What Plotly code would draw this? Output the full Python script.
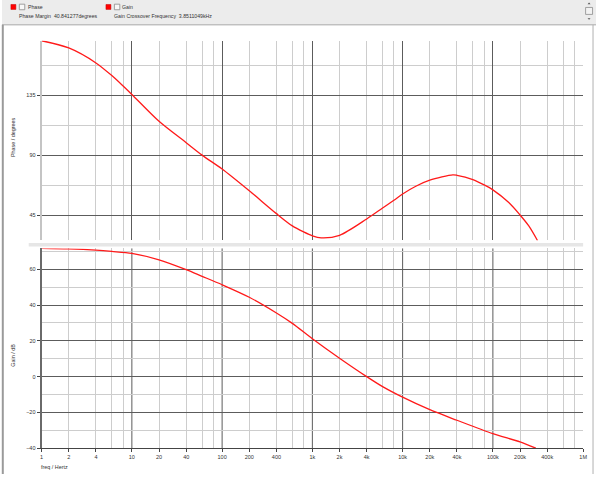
import plotly.graph_objects as go

# ---------------- data ----------------
phase_freq = [1, 2, 4, 6, 8, 10, 20, 40, 60, 100, 200, 400, 600, 800, 1000, 1250,
              2000, 4000, 6000, 8000, 10000, 14000, 20000, 36000, 40000, 60000, 80000, 100000,
              150000, 200000, 250000, 312000]
phase_deg = [175.7, 170.3, 159.1, 149.6, 141.8, 135.5, 115.4, 99.4, 90.1, 79.7, 63.4,
             46.3, 37.1, 32.6, 29.7, 28.2, 30.1, 42.3, 50.5, 56.3, 61.0, 66.8, 71.3, 75.3, 75.0,
             71.8, 67.8, 64.1, 54.6, 45.3, 37.1, 26.2]

gain_freq = [1, 2, 4, 6, 10, 20, 40, 60, 100, 200, 400, 600, 1000, 2000, 4000, 6000, 10000,
             20000, 40000, 100000, 200000, 299000]
gain_db = [71.7, 71.4, 70.7, 70.0, 68.9, 65.3, 59.8, 56.1, 51.4, 44.4, 35.6, 29.8, 21.2,
           10.3, 0.0, -5.6, -11.5, -18.5, -24.4, -31.9, -36.5, -40.0]

x_tick_vals = [1, 2, 4, 10, 20, 40, 100, 200, 400, 1e3, 2e3, 4e3, 1e4, 2e4, 4e4, 1e5, 2e5, 4e5, 1e6]
x_tick_text = ["1", "2", "4", "10", "20", "40", "100", "200", "400", "1k", "2k", "4k",
               "10k", "20k", "40k", "100k", "200k", "400k", "1M"]
decades = [1, 10, 100, 1e3, 1e4, 1e5, 1e6]
minor_x = [m * d for d in decades[:-1] for m in (2, 4, 6, 8)]

phase_ticks = [45, 90, 135]
phase_minor = [67.5, 112.5, 157.5]
gain_ticks = [-40, -20, 0, 20, 40, 60]
gain_minor = [-30, -10, 10, 30, 50, 70]

phase_range = [26.2, 175.7]
gain_range = [-40.0, 71.7]

phase_margin_text = "Phase Margin  40.841277degrees"
gain_cross_text = "Gain Crossover Frequency  3.8511049kHz"

# ---------------- layout helpers ----------------
W, H = 600, 477
def px(x):
    return x / W
def py(y):
    return 1 - y / H

FONT = "Liberation Sans"
TXT = "#333333"
MAJ = "#5c5c5c"
MIN = "#cdcdcd"
TICK_SIZE = 5.5

fig = go.Figure()
fig.add_trace(go.Scatter(x=phase_freq, y=phase_deg, mode="lines", xaxis="x", yaxis="y",
                         line=dict(color="#ff1a1a", width=1.3, shape="spline", smoothing=0.8),
                         hoverinfo="skip", showlegend=False))
fig.add_trace(go.Scatter(x=gain_freq, y=gain_db, mode="lines", xaxis="x2", yaxis="y2",
                         line=dict(color="#ff1a1a", width=1.3, shape="spline", smoothing=0.8),
                         hoverinfo="skip", showlegend=False))

xdom = [px(40), px(587)]
common_x = dict(type="log", range=[0, 6], domain=xdom, zeroline=False, fixedrange=True)

fig.update_layout(
    width=W, height=H, autosize=False,
    margin=dict(l=0, r=0, t=0, b=0),
    paper_bgcolor="white", plot_bgcolor="white",
    showlegend=False,
    font=dict(family=FONT, size=TICK_SIZE, color=TXT),
    xaxis=dict(**common_x, anchor="y", tickvals=decades, showticklabels=False, ticks="",
               showgrid=True, gridcolor=MAJ, gridwidth=1, showline=False,
               minor=dict(tickvals=minor_x, showgrid=True, gridcolor=MIN, gridwidth=1, ticks="")),
    yaxis=dict(domain=[py(242), py(41)], range=phase_range, anchor="x", tickvals=phase_ticks,
               ticks="outside", ticklen=3, tickcolor="#444", showgrid=True, gridcolor=MAJ,
               gridwidth=1, showline=True, linecolor="#c4c4c4", linewidth=2, zeroline=False,
               tickfont=dict(size=TICK_SIZE, color=TXT), fixedrange=True,
               minor=dict(tickvals=phase_minor, showgrid=True, gridcolor=MIN, gridwidth=1, ticks="")),
    xaxis2=dict(**common_x, anchor="y2", tickvals=x_tick_vals, ticktext=x_tick_text,
                ticks="outside", ticklen=3, tickcolor="#444", showgrid=False,
                showline=True, linecolor="#444", linewidth=1,
                tickfont=dict(size=TICK_SIZE, color=TXT),
                minor=dict(tickvals=minor_x, showgrid=True, gridcolor=MIN, gridwidth=1, ticks="")),
    yaxis2=dict(domain=[py(451), py(250)], range=gain_range, anchor="x2", tickvals=gain_ticks,
                ticks="outside", ticklen=3, tickcolor="#444", showgrid=True, gridcolor=MAJ,
                gridwidth=1, showline=True, linecolor="#6a6a6a", linewidth=2, zeroline=False,
                tickfont=dict(size=TICK_SIZE, color=TXT), fixedrange=True,
                minor=dict(tickvals=gain_minor, showgrid=True, gridcolor=MIN, gridwidth=1, ticks="")),
)

shapes = []
# decade lines in the gain panel
for d in decades[1:-1]:
    shapes.append(dict(type="line", xref="x2", yref="y2 domain", x0=d, x1=d, y0=0, y1=1,
                       line=dict(color=MAJ, width=1), layer="below"))
# header
shapes.append(dict(type="rect", xref="paper", yref="paper", x0=0, x1=1, y0=py(25), y1=1,
                   fillcolor="#ececec", line=dict(width=0), layer="below"))
shapes.append(dict(type="line", xref="paper", yref="paper", x0=0, x1=1, y0=py(25), y1=py(25),
                   line=dict(color="#a8a8a8", width=1)))
# window borders
shapes.append(dict(type="line", xref="paper", yref="paper", x0=px(0.8), x1=px(0.8), y0=0, y1=py(25),
                   line=dict(color="#9a9a9a", width=2)))
shapes.append(dict(type="line", xref="paper", yref="paper", x0=px(597), x1=px(597), y0=0, y1=py(25),
                   line=dict(color="#b0b0b0", width=1)))
# splitter between panels
shapes.append(dict(type="rect", xref="paper", yref="paper", x0=px(27), x1=px(587),
                   y0=py(248), y1=py(244.5), fillcolor="#e6e6e6", line=dict(width=0)))
# legend markers and checkboxes
for sx in (9, 105):
    shapes.append(dict(type="rect", xref="paper", yref="paper", x0=px(sx), x1=px(sx + 5),
                       y0=py(9.5), y1=py(4.5), fillcolor="#ff0000", line=dict(color="#c00000", width=0.5)))
    shapes.append(dict(type="rect", xref="paper", yref="paper", x0=px(sx + 8.5), x1=px(sx + 14),
                       y0=py(9.8), y1=py(4.2), fillcolor="#f8f8f8", line=dict(color="#8a8a8a", width=0.8)))
# scrollbar
shapes.append(dict(type="rect", xref="paper", yref="paper", x0=px(589.5), x1=px(596.5),
                   y0=py(14.5), y1=py(7.5), fillcolor="#f2f2f2", line=dict(color="#8c8c8c", width=0.8)))
shapes.append(dict(type="path", xref="paper", yref="paper",
                   path=f"M {px(591.5)} {py(4.3)} L {px(594.5)} {py(4.3)} L {px(593)} {py(2.6)} Z",
                   fillcolor="#555", line=dict(width=0)))
shapes.append(dict(type="path", xref="paper", yref="paper",
                   path=f"M {px(591.5)} {py(18.3)} L {px(594.5)} {py(18.3)} L {px(593)} {py(20)} Z",
                   fillcolor="#555", line=dict(width=0)))
fig.update_layout(shapes=shapes)

def ann(text, x, y, anchor="left", angle=0, size=5.2):
    return dict(text=text, xref="paper", yref="paper", x=px(x), y=py(y), showarrow=False,
                xanchor=anchor, yanchor="middle", textangle=angle, borderpad=0,
                font=dict(family=FONT, size=size, color=TXT))

fig.update_layout(annotations=[
    ann("Phase", 25, 7.3),
    ann(phase_margin_text, 16, 15.7),
    ann("Gain", 120.5, 7.3),
    ann(gain_cross_text, 112, 15.7),
    ann("Phase / degrees", 11, 138, anchor="center", angle=-90, size=5.4),
    ann("Gain / dB", 11, 357, anchor="center", angle=-90, size=5.4),
    ann("freq / Hertz", 38, 470, size=5.4),
])

fig.write_html("out.html", config={"displayModeBar": False},
               post_script="document.body.style.margin='0px';document.body.style.overflow='hidden';")
